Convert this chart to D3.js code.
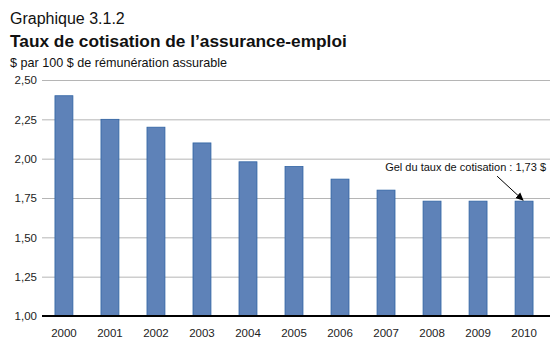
<!DOCTYPE html>
<html>
<head>
<meta charset="utf-8">
<script src="https://cdn.jsdelivr.net/npm/d3@7"></script>
<style>
  html, body { margin: 0; padding: 0; background: #fff; }
  svg { display: block; font-family: "Liberation Sans", Arial, Helvetica, sans-serif; }
</style>
</head>
<body>
<svg id="chart" width="560" height="349"></svg>
<script>
// Taux de cotisation de l'assurance-emploi, 2000–2010
const years = ["2000", "2001", "2002", "2003", "2004", "2005", "2006", "2007", "2008", "2009", "2010"];
const rates = [2.40, 2.25, 2.20, 2.10, 1.98, 1.95, 1.87, 1.80, 1.73, 1.73, 1.73];
const yTicks = [1.00, 1.25, 1.50, 1.75, 2.00, 2.25, 2.50];
const frozenRate = 1.73;

const svg = d3.select("#chart");
const W = 560, H = 349;
const plotLeft = 42, plotRight = 550, plotTop = 80, plotBottom = 316;

const x = d3.scaleBand().domain(years).range([40, 548]).paddingInner(0.61).paddingOuter(0.325);
const y = d3.scaleLinear().domain([1.0, 2.5]).range([plotBottom, plotTop]);
const fmt = v => d3.format(".2f")(v).replace(".", ",");

// Titles
svg.append("text").attr("x", 10).attr("y", 24).attr("font-size", 16).attr("fill", "#111").text("Graphique 3.1.2");
svg.append("text").attr("x", 10).attr("y", 47).attr("font-size", 17.3).attr("font-weight", "bold").attr("fill", "#111").text("Taux de cotisation de l’assurance-emploi");
svg.append("text").attr("x", 10).attr("y", 67).attr("font-size", 12.6).attr("fill", "#111").text("$ par 100 $ de rémunération assurable");

// Gridlines and y axis labels
const yAxis = d3.axisLeft(y).tickValues(yTicks).tickFormat(fmt).tickSize(-(plotRight - plotLeft)).tickPadding(5);
const gy = svg.append("g").attr("transform", `translate(${plotLeft},0)`).call(yAxis);
gy.select(".domain").remove();
gy.selectAll(".tick line").attr("stroke", "#b5b5b5").attr("stroke-width", 1);
gy.selectAll(".tick text").attr("font-size", 11.5).attr("fill", "#222").attr("font-family", "Liberation Sans, Arial, sans-serif");

// Bars
svg.append("g").selectAll("rect").data(rates).join("rect")
  .attr("x", (d, i) => x(years[i]))
  .attr("width", x.bandwidth())
  .attr("y", d => y(d))
  .attr("height", d => y(1.0) - y(d))
  .attr("fill", "#5e82b8")
  .attr("stroke", "#2f63a3")
  .attr("stroke-width", 0.8);

// Baseline and x axis labels
const xAxis = d3.axisBottom(x).tickSize(0).tickPadding(13);
const gx = svg.append("g").attr("transform", `translate(0,${y(1.0)})`).call(xAxis);
gx.select(".domain").remove();
gx.selectAll(".tick text").attr("font-size", 11.5).attr("fill", "#222").attr("font-family", "Liberation Sans, Arial, sans-serif");
svg.append("line")
  .attr("x1", plotLeft).attr("x2", plotRight)
  .attr("y1", y(1.0)).attr("y2", y(1.0))
  .attr("stroke", "#000").attr("stroke-width", 2);

// Annotation for the frozen rate
const lastX = x("2010") + x.bandwidth() / 2;
const lastY = y(frozenRate);
svg.append("defs").append("marker")
  .attr("id", "arrow").attr("viewBox", "0 0 10 10").attr("refX", 9).attr("refY", 5)
  .attr("markerWidth", 8).attr("markerHeight", 8).attr("orient", "auto")
  .append("path").attr("d", "M0,0.5L10,5L0,9.5Z").attr("fill", "#000");
svg.append("line")
  .attr("x1", lastX - 27).attr("y1", lastY - 25)
  .attr("x2", lastX - 1).attr("y2", lastY - 1)
  .attr("stroke", "#000").attr("stroke-width", 1)
  .attr("marker-end", "url(#arrow)");
svg.append("text").attr("x", W - 14).attr("y", lastY - 30).attr("text-anchor", "end")
  .attr("font-size", 11).attr("fill", "#111")
  .text(`Gel du taux de cotisation : ${fmt(frozenRate)} $`);
</script>
</body>
</html>
